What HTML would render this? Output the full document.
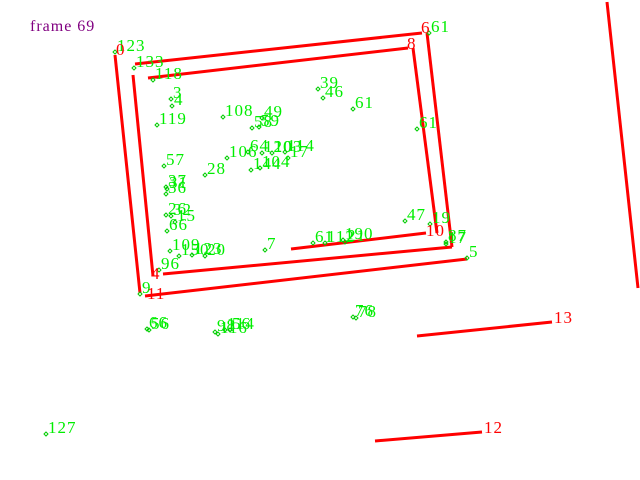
<!DOCTYPE html>
<html><head><meta charset="utf-8"><style>
html,body{margin:0;padding:0;background:#fff;}
svg{display:block;}
text{font-family:"Liberation Serif",serif;font-size:17px;letter-spacing:1px;}
</style></head><body>
<svg id="c" width="640" height="480">
<rect width="640" height="480" fill="#fff"/>
<text x="30" y="31" fill="#800080" style="font-size:16px">frame 69</text>
<g id="lines"></g>
<g id="pts"></g>
<g id="rlabels"></g>
</svg>
<script>
const segX1=[135,148,115,133,427,413,163,291,145,607,417,375];
const segY1=[64,78,55,75,33,48,274,249,296,2,336,441];
const segX2=[422,408,140,153,452,437,452,426,467,638,552,482];
const segY2=[33,48,293,276,247,233,247,233,259,288,322,432];
const redLabels=["0","6","8","4","11","10","13","12"];
const redLX=[116,421,407,151,147,426,554,484];
const redLY=[55,33,49,279,299,236,323,433];
const ptLabels=["123","133","118","3","4","119","108","49","58","59","39","46","61","61","106","64","120","103","114","17","144","104","57","28","37","31","36","26","32","15","66","109","150","123","20","96","7","61","112","190","21","47","19","87","5","66","56","98","114","56","116","76","78","127","61","9","17"];
const ptX=[115,134,153,171,172,157,223,262,252,259,318,323,353,417,227,248,262,272,285,288,251,260,164,205,166,167,166,166,171,175,167,170,179,192,205,159,265,313,325,343,345,405,430,446,467,147,149,215,225,230,218,353,356,46,429,140,446];
const ptY=[52,68,80,99,106,125,117,118,128,127,89,98,109,129,158,152,153,153,152,158,170,168,166,175,187,189,194,215,216,222,231,251,256,255,256,270,250,243,243,240,242,221,224,242,258,329,330,332,330,330,334,317,318,434,33,294,244];
const NS="http://www.w3.org/2000/svg";
const gl=document.getElementById('lines'),gp=document.getElementById('pts'),gr=document.getElementById('rlabels');
for(let i=0;i<segX1.length;i++){
 const l=document.createElementNS(NS,'line');
 l.setAttribute('x1',segX1[i]);l.setAttribute('y1',segY1[i]);l.setAttribute('x2',segX2[i]);l.setAttribute('y2',segY2[i]);
 l.setAttribute('stroke','#ff0000');l.setAttribute('stroke-width','3');
 
 
 gl.appendChild(l);
}
for(let i=0;i<ptLabels.length;i++){
 const x=ptX[i],y=ptY[i];
 const d=document.createElementNS(NS,'polygon');
 d.setAttribute('points',`${x},${y-2} ${x+2},${y} ${x},${y+2} ${x-2},${y}`);
 d.setAttribute('fill','none');d.setAttribute('stroke','#00cc00');d.setAttribute('stroke-width','1');
 
 
 gp.appendChild(d);
 const t=document.createElementNS(NS,'text');
 t.setAttribute('x',x+2);t.setAttribute('y',y-1);t.setAttribute('fill','#00ee00');
 t.textContent=ptLabels[i];
 
 
 gp.appendChild(t);
}
for(let i=0;i<redLabels.length;i++){
 const t=document.createElementNS(NS,'text');
 t.setAttribute('x',redLX[i]);t.setAttribute('y',redLY[i]);t.setAttribute('fill','#ff0000');
 t.textContent=redLabels[i];
 
 
 gr.appendChild(t);
}
</script>
</body></html>
